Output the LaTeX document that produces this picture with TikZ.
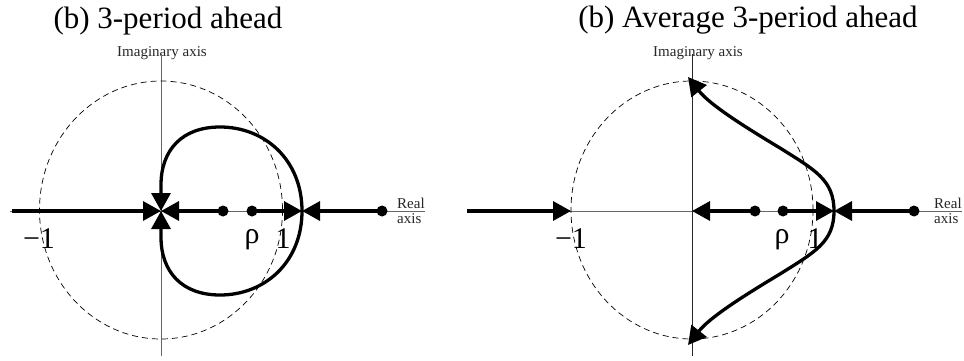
\documentclass[tikz,border=0pt]{standalone}
\usepackage{fontspec}
\setmainfont{Liberation Serif}
\usetikzlibrary{arrows.meta}
\begin{document}
\begin{tikzpicture}[x=1pt,y=-1pt,
  flow/.style={line width=3.3pt},
  tipped/.style={-{Triangle[length=18pt,width=19pt]}},
  axisline/.style={line width=0.8pt,draw=black!60},
  vaxis/.style={line width=0.8pt,draw=black!85},
  unitc/.style={dashed,dash pattern=on 6pt off 4pt,line width=0.7pt},
  dot/.style={circle,fill=black,inner sep=0pt,minimum size=11pt},
  title/.style={font=\fontsize{31}{36}\selectfont,anchor=base,inner sep=0pt},
  small/.style={font=\fontsize{15}{17}\selectfont,text=black!85,anchor=base,inner sep=0pt},
  big/.style={font=\fontsize{30}{34}\selectfont,anchor=base,inner sep=0pt}]
\useasboundingbox (0,0) rectangle (964,361);

% ---------- left panel ----------
\node[title] (t1) at (168,29) {(b) 3-period ahead};
\node[small] (im1) at (162,57) {Imaginary axis};
\coordinate (O1) at (161,211);
\coordinate (L1) at (12,211);
\coordinate (P1) at (302,211);
\coordinate (ax1a) at (10,211);
\coordinate (ax1b) at (425,211);
\coordinate (vy1a) at (161,54);
\coordinate (vy1b) at (161,356);
\draw[axisline] (ax1a) -- (ax1b);
\draw[axisline] (vy1a) -- (vy1b);
\draw[unitc] (161,210) ellipse [x radius=121.5, y radius=129];
\node[dot] (a1) at (223,211) {};
\node[dot] (r1) at (252,211) {};
\node[dot] (b1) at (382,211) {};
\draw[flow,tipped] (L1) -- (O1);
\draw[flow,tipped] (a1.center) -- (O1);
\draw[flow,tipped] (r1.center) -- (P1);
\draw[flow,tipped] (b1.center) -- (P1);
\draw[flow,tipped] (P1) .. controls (302,160) and (265,127) .. (220,127)
  .. controls (182,127) and (161,150) .. (161,185) -- (O1);
\draw[flow,tipped] (P1) .. controls (302,262) and (265,295) .. (220,295)
  .. controls (182,295) and (161,272) .. (161,237) -- (O1);
\node[small,anchor=base west] (re1) at (397,208) {Real};
\node[small,anchor=base west] (ra1) at (397,223) {axis};
\node[big] (m1) at (39,248) {\char"2212 1};
\node[big] (rho1) at (252,243) {ρ};
\node[big] (one1) at (283,248) {1};

% ---------- right panel ----------
\node[title] (t2) at (748,28) {(b) Average 3-period ahead};
\node[small] (im2) at (698,57) {Imaginary axis};
\coordinate (O2) at (692,211);
\coordinate (L2) at (467,211);
\coordinate (M2) at (571,211);
\coordinate (P2) at (834,211);
\coordinate (T2) at (688,77);
\coordinate (B2) at (688,345);
\coordinate (ax2b) at (962,211);
\coordinate (vy2a) at (692,54);
\coordinate (vy2b) at (692,356);
\draw[axisline] (L2) -- (ax2b);
\draw[vaxis] (vy2a) -- (vy2b);
\draw[unitc] (692,210) ellipse [x radius=121, y radius=129];
\node[dot] (a2) at (755,211) {};
\node[dot] (r2) at (783,211) {};
\node[dot] (b2) at (914,211) {};
\draw[flow,tipped] (L2) -- (M2);
\draw[flow,tipped] (a2.center) -- (O2);
\draw[flow,tipped] (r2.center) -- (P2);
\draw[flow,tipped] (b2.center) -- (P2);
\draw[flow,tipped] (P2) .. controls (834,180) and (815,170) .. (780,148)
  .. controls (745,127) and (710,105) .. (T2);
\draw[flow,tipped] (P2) .. controls (834,242) and (815,252) .. (780,274)
  .. controls (745,295) and (710,317) .. (B2);
\node[small,anchor=base west] (re2) at (934,208) {Real};
\node[small,anchor=base west] (ra2) at (934,223) {axis};
\node[big] (m2) at (571,248) {\char"2212 1};
\node[big] (rho2) at (782,243) {ρ};
\node[big] (one2) at (815,248) {1};
\end{tikzpicture}
\end{document}
